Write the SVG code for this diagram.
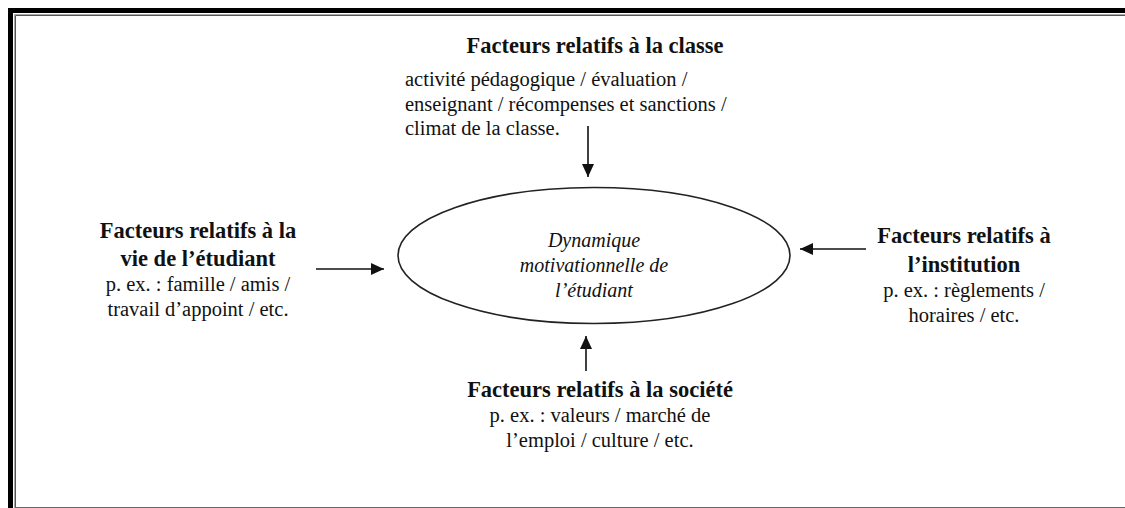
<svg xmlns="http://www.w3.org/2000/svg" width="1125" height="508" viewBox="0 0 1125 508">
<style>
text{font-family:"Liberation Serif","Times New Roman",serif;fill:#111}
.t{font-weight:bold;font-size:22.5px;text-anchor:middle}
.b{font-size:20.5px;text-anchor:middle}
.l{font-size:20.5px}
.c{font-style:italic;font-size:20px;text-anchor:middle}
.conn{stroke:#111;stroke-width:1.6;fill:none}
</style>
<defs>
<marker id="ah" markerWidth="14" markerHeight="12" refX="13" refY="6" orient="auto" markerUnits="userSpaceOnUse">
<path d="M0,0 L13,6 L0,12 Z" fill="#111"/>
</marker>
</defs>
<rect width="1125" height="508" fill="#fff"/>
<g id="frame">
<rect x="8" y="8" width="1117" height="5" fill="#000"/>
<rect x="8" y="8" width="5" height="500" fill="#000"/>
<path d="M14.5,508 V14.5 H1125" stroke="#aaa" stroke-width="1" fill="none"/>
<path d="M15.5,507 V15.5 H1125" stroke="#555" stroke-width="1" fill="none"/>
<path d="M15,507.5 H1125" stroke="#666" stroke-width="1" fill="none"/>
</g>
<g id="center">
<ellipse cx="594" cy="255.5" rx="196" ry="68" fill="none" stroke="#222" stroke-width="1.6"/>
<text class="c" x="594" y="247">Dynamique</text>
<text class="c" x="594" y="272">motivationnelle de</text>
<text class="c" x="594" y="297">l’étudiant</text>
</g>
<g id="classe">
<text class="t" x="595" y="53">Facteurs relatifs à la classe</text>
<text class="l" x="405" y="86">activité pédagogique / évaluation /</text>
<text class="l" x="405" y="110.5">enseignant / récompenses et sanctions /</text>
<text class="l" x="405" y="135">climat de la classe.</text>
</g>
<g id="etudiant">
<text class="t" x="198" y="238">Facteurs relatifs à la</text>
<text class="t" x="198" y="266">vie de l’étudiant</text>
<text class="b" x="198" y="291">p. ex. : famille / amis /</text>
<text class="b" x="198" y="316">travail d’appoint / etc.</text>
</g>
<g id="institution">
<text class="t" x="964" y="243">Facteurs relatifs à</text>
<text class="t" x="964" y="272">l’institution</text>
<text class="b" x="964" y="297">p. ex. : règlements /</text>
<text class="b" x="964" y="322">horaires / etc.</text>
</g>
<g id="societe">
<text class="t" x="600" y="397">Facteurs relatifs à la société</text>
<text class="b" x="600" y="422">p. ex. : valeurs / marché de</text>
<text class="b" x="600" y="447">l’emploi / culture / etc.</text>
</g>
<g id="connectors">
<line class="conn" x1="588" y1="126" x2="588" y2="177" marker-end="url(#ah)"/>
<line class="conn" x1="316" y1="269" x2="384" y2="269" marker-end="url(#ah)"/>
<line class="conn" x1="866" y1="249" x2="800" y2="249" marker-end="url(#ah)"/>
<line class="conn" x1="586" y1="371" x2="586" y2="336" marker-end="url(#ah)"/>
</g>
</svg>
